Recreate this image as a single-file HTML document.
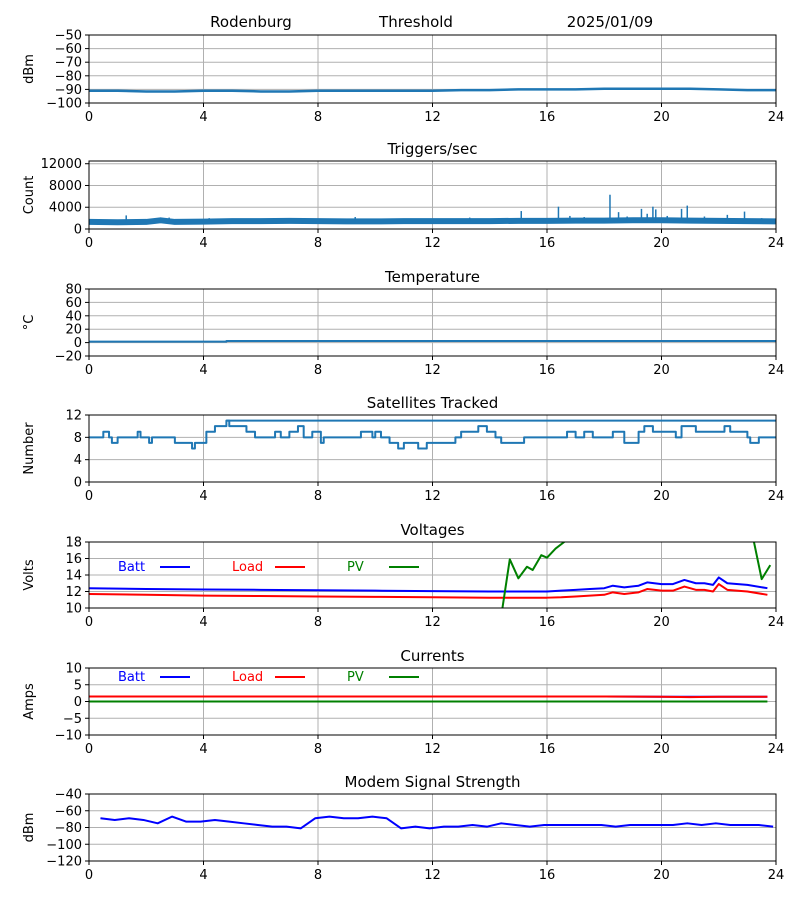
<!DOCTYPE html>
<html><head><meta charset="utf-8"><style>
body{margin:0;background:#fff;font-family:"DejaVu Sans","Liberation Sans",sans-serif}
svg text{font-family:"DejaVu Sans","Liberation Sans",sans-serif}
</style></head><body>
<svg id="c" width="800" height="900"></svg>
<script>
const hoursTicks=[0,4,8,12,16,20,24];
const rssiT=[0,1,2,3,4,5,6,7,8,9,10,11,12,13,14,15,16,17,18,19,20,21,22,23,24];
const rssiV=[-91,-91,-91.5,-91.5,-91,-91,-91.5,-91.5,-91,-91,-91,-91,-91,-90.5,-90.5,-90,-90,-90,-89.5,-89.5,-89.5,-89.5,-90,-90.5,-90.5];
const trigT=[0,1,2,2.5,3,4,5,6,7,8,9,10,11,12,13,14,15,16,17,18,19,20,21,22,23,24];
const trigV=[1300,1250,1300,1600,1300,1350,1450,1450,1500,1450,1400,1400,1450,1450,1450,1450,1500,1500,1550,1550,1600,1600,1550,1500,1450,1400];
const spikeT=[1.3,2.8,4.2,9.3,13.3,15.1,16.4,16.8,17.3,18.2,18.5,18.8,19.3,19.5,19.7,19.8,20.2,20.7,20.9,21.5,22.3,22.9,23.5];
const spikeV=[2500,2100,2000,2200,2100,3300,4100,2400,2200,6300,3100,2300,3700,2800,4100,3600,2400,3700,4300,2300,2600,3200,2000];
const tempT=[0,4.8,4.8,24];
const tempV=[1.5,1.5,2.3,2.3];
const satT=[0,0.5,0.7,0.8,1.0,1.7,1.8,2.1,2.2,3,3.6,3.7,4.1,4.4,4.8,4.9,5.5,5.8,6.5,6.7,7,7.3,7.5,7.8,8.1,8.2,9,9.5,9.9,10,10.2,10.5,10.8,11,11.5,11.8,12.8,13,13.6,13.9,14.2,14.4,15.2,16.7,17,17.3,17.6,18.3,18.7,19.2,19.4,19.7,20.5,20.7,21.2,22.2,22.4,23,23.1,23.4,24];
const satV=[8,9,8,7,8,9,8,7,8,7,6,7,9,10,11,10,9,8,9,8,9,10,8,9,7,8,8,9,8,9,8,7,6,7,6,7,8,9,10,9,8,7,8,9,8,9,8,9,7,9,10,9,8,10,9,10,9,8,7,8,8];
const sat2T=[4.8,24];
const sat2V=[11,11];
const voltT=[0,2,4,6,8,10,12,14,15,16,16.5,17,17.5,18,18.3,18.7,19.2,19.5,20,20.4,20.8,21.2,21.5,21.8,22,22.3,23,23.7];
const battV=[12.4,12.3,12.25,12.2,12.15,12.1,12.05,12,12,12,12.1,12.2,12.3,12.4,12.7,12.5,12.7,13.1,12.9,12.9,13.4,13.0,13.0,12.8,13.7,13.0,12.8,12.4];
const loadV=[11.7,11.6,11.5,11.45,11.4,11.35,11.3,11.25,11.25,11.25,11.3,11.4,11.5,11.6,11.9,11.7,11.9,12.3,12.1,12.1,12.6,12.2,12.2,12.0,12.9,12.2,12.0,11.6];
const pvT=[14.4,14.7,15,15.3,15.5,15.8,16,16.3,16.6,17,23,23.2,23.5,23.8];
const pvV=[9,15.9,13.6,15,14.6,16.4,16.1,17.2,18,19,19,18.5,13.5,15.2];
const curT=[0,4,8,12,16,18,20,21,22,23.7];
const battA=[1.5,1.5,1.5,1.5,1.5,1.5,1.4,1.4,1.4,1.4];
const loadA=[1.5,1.5,1.5,1.5,1.5,1.5,1.4,1.3,1.4,1.4];
const pvA=[0,0,0,0,0,0,0,0,0,0];
const modT=[0.4,0.9,1.4,1.9,2.4,2.9,3.4,3.9,4.4,4.9,5.4,5.9,6.4,6.9,7.4,7.9,8.4,8.9,9.4,9.9,10.4,10.9,11.4,11.9,12.4,12.9,13.4,13.9,14.4,14.9,15.4,15.9,16.4,16.9,17.4,17.9,18.4,18.9,19.4,19.9,20.4,20.9,21.4,21.9,22.4,22.9,23.4,23.9];
const modV=[-69,-71,-69,-71,-75,-67,-73,-73,-71,-73,-75,-77,-79,-79,-81,-69,-67,-69,-69,-67,-69,-81,-79,-81,-79,-79,-77,-79,-75,-77,-79,-77,-77,-77,-77,-77,-79,-77,-77,-77,-77,-75,-77,-75,-77,-77,-77,-79];

const NS='http://www.w3.org/2000/svg';
const svg=document.getElementById('c');
const X0=89,X1=776;
function mk(tag,at,parent){const e=document.createElementNS(NS,tag);for(const k in at)e.setAttribute(k,at[k]);(parent||svg).appendChild(e);return e;}
function txt(s,at,parent){const e=mk('text',at,parent);e.textContent=s;return e;}
const xs=h=>X0+h/24*(X1-X0);
function panel(name,top,bot,ymin,ymax,yticks,ylabel,title){
  const g=mk('g',{});
  
  
  const ys=v=>bot-(v-ymin)/(ymax-ymin)*(bot-top);
  mk('rect',{x:X0,y:top,width:X1-X0,height:bot-top,fill:'#fff'},g);
  hoursTicks.forEach(h=>{const x=xs(h);mk('line',{x1:x,x2:x,y1:top,y2:bot,stroke:'#b0b0b0','stroke-width':1},g);
    mk('line',{x1:x,x2:x,y1:bot,y2:bot+4,stroke:'#000'},g);
    const t=txt(h,{x:x,y:bot+18,'text-anchor':'middle','font-size':13},g);});
  yticks.forEach(v=>{const y=ys(v);mk('line',{x1:X0,x2:X1,y1:y,y2:y,stroke:'#b0b0b0'},g);
    mk('line',{x1:X0-4,x2:X0,y1:y,y2:y,stroke:'#000'},g);
    const t=txt(String(v).replace('-','\u2212'),{x:X0-7,y:y+4.5,'text-anchor':'end','font-size':13},g);});
  const yl=txt(ylabel,{x:0,y:0,'text-anchor':'middle','font-size':13,transform:`translate(33,${(top+bot)/2}) rotate(-90)`},g);
  
  if(title){const t=txt(title,{x:(X0+X1)/2,y:top-7,'text-anchor':'middle','font-size':15},g);}
  const cid='clip-'+name;const cp=mk('clipPath',{id:cid},g);mk('rect',{x:X0,y:top,width:X1-X0,height:bot-top},cp);
  const plot=mk('g',{'clip-path':`url(#${cid})`},g);
  return {g,ys,plot,top,bot,finish(){mk('rect',{x:X0,y:top,width:X1-X0,height:bot-top,fill:'none',stroke:'#000','stroke-width':1},g);}};
}
function line(p,T,V,color,w,name,step){
  let d='';T.forEach((t,i)=>{const x=xs(t),y=p.ys(V[i]);
    if(i===0)d+=`M${x},${y}`;else if(step)d+=`H${x}V${y}`;else d+=`L${x},${y}`;});
  const e=mk('path',{d:d,fill:'none',stroke:color,'stroke-width':w,'stroke-linejoin':'round'},p.plot);
  
  
  return e;
}
function legend(p,y){
  [['Batt','blue',118,160],['Load','red',232,275],['PV','green',347,389]].forEach(([l,c,tx,lx])=>{
    const t=txt(l,{x:tx,y:y+5,'font-size':13,fill:c},p.g);
    mk('line',{x1:lx,x2:lx+30,y1:y+1,y2:y+1,stroke:c,'stroke-width':2},p.g);});
}
[['Rodenburg',251],['Threshold',416],['2025/01/09',610]].forEach(([s,x])=>{const t=txt(s,{x:x,y:27,'text-anchor':'middle','font-size':15});});
let p=panel('rssi',35,103,-100,-50,[-50,-60,-70,-80,-90,-100],'dBm',null);
line(p,rssiT,rssiV,'#1f77b4',2.5,'rssi-line');p.finish();
p=panel('triggers',161,229,0,12500,[0,4000,8000,12000],'Count','Triggers/sec');
line(p,trigT,trigV,'#1f77b4',6,'triggers-band');
spikeT.forEach((t,i)=>{const x=xs(t);const e=mk('line',{x1:x,x2:x,y1:p.ys(1400),y2:p.ys(spikeV[i]),stroke:'#1f77b4','stroke-width':1.5},p.plot);
  
  });
p.finish();
p=panel('temperature',289,356,-20,80,[-20,0,20,40,60,80],'\u00B0C','Temperature');
line(p,tempT,tempV,'#1f77b4',2,'temperature-line');p.finish();
p=panel('satellites',415,482,0,12,[0,4,8,12],'Number','Satellites Tracked');
line(p,sat2T,sat2V,'#1f77b4',2,'satellites-max-line',true);line(p,satT,satV,'#1f77b4',2,'satellites-line',true);p.finish();
p=panel('voltages',542,608,10,18,[10,12,14,16,18],'Volts','Voltages');
line(p,voltT,battV,'blue',2,'batt-voltage-line');line(p,voltT,loadV,'red',2,'load-voltage-line');line(p,pvT,pvV,'green',2,'pv-voltage-line');legend(p,566);p.finish();
p=panel('currents',668,735,-10,10,[-10,-5,0,5,10],'Amps','Currents');
line(p,curT,battA,'blue',2,'batt-current-line');line(p,curT,loadA,'red',2,'load-current-line');line(p,curT,pvA,'green',2,'pv-current-line');legend(p,676);p.finish();
p=panel('modem',794,861,-120,-40,[-120,-100,-80,-60,-40],'dBm','Modem Signal Strength');
line(p,modT,modV,'blue',2,'modem-signal-line');p.finish();
</script>
</body></html>
